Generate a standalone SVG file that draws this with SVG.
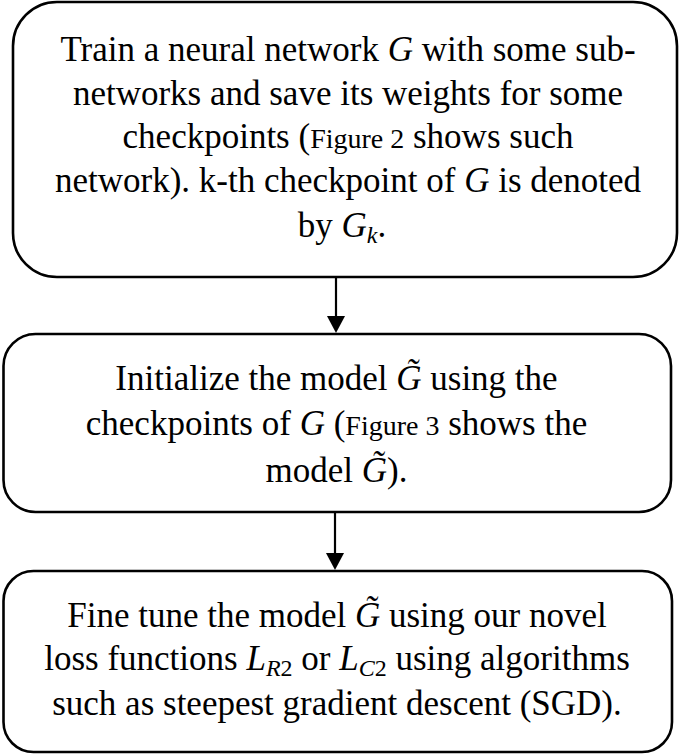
<svg xmlns="http://www.w3.org/2000/svg" width="685" height="754" viewBox="0 0 685 754">
<style>
.nodebox{fill:#fff;stroke:#000;stroke-width:2.6}
.nodelabel{font-family:'Liberation Serif',serif;font-size:35px;fill:#000;text-anchor:middle}
.mathvar{font-style:italic}
.figref{font-size:28px}
.subscr{font-size:24px}
.connline{stroke:#000;stroke-width:2.2;fill:none}
</style>
<rect width="685" height="754" fill="#fff"/>
<g id="node1">
<rect class="nodebox" x="13" y="2" width="664" height="275" rx="44"/>
<text class="nodelabel" style="font-family:'Liberation Serif'" x="348" y="61">Train a neural network <tspan class="mathvar">G</tspan> with some sub-</text>
<text class="nodelabel" style="font-family:'Liberation Serif'" x="348" y="105">networks and save its weights for some</text>
<text class="nodelabel" style="font-family:'Liberation Serif'" x="348" y="148">checkpoints (<tspan class="figref">Figure 2</tspan> shows such</text>
<text class="nodelabel" style="font-family:'Liberation Serif'" x="348" y="192">network). k-th checkpoint of <tspan class="mathvar">G</tspan> is denoted</text>
<text class="nodelabel" style="font-family:'Liberation Serif'" x="342" y="237">by <tspan class="mathvar">G</tspan><tspan class="mathvar subscr" dy="6">k</tspan><tspan dy="-6">.</tspan></text>
</g>
<g id="node2">
<rect class="nodebox" x="3.5" y="334" width="667.5" height="178" rx="32"/>
<text class="nodelabel" style="font-family:'Liberation Serif'" x="336.5" y="390">Initialize the model <tspan class="mathvar">G̃</tspan> using the</text>
<text class="nodelabel" style="font-family:'Liberation Serif'" x="336.5" y="435">checkpoints of <tspan class="mathvar">G</tspan> (<tspan class="figref">Figure 3</tspan> shows the</text>
<text class="nodelabel" style="font-family:'Liberation Serif'" x="336.5" y="482">model <tspan class="mathvar">G̃</tspan>).</text>
</g>
<g id="node3">
<rect class="nodebox" x="3.5" y="571" width="668.5" height="181" rx="30"/>
<text class="nodelabel" style="font-family:'Liberation Serif'" x="337" y="627">Fine tune the model <tspan class="mathvar">G̃</tspan> using our novel</text>
<text class="nodelabel" style="font-family:'Liberation Serif'" x="337" y="670">loss functions <tspan class="mathvar">L</tspan><tspan class="subscr" dy="6"><tspan class="mathvar">R</tspan>2</tspan><tspan dy="-6"> or </tspan><tspan class="mathvar">L</tspan><tspan class="subscr" dy="6"><tspan class="mathvar">C</tspan>2</tspan><tspan dy="-6"> using algorithms</tspan></text>
<text class="nodelabel" style="font-family:'Liberation Serif'" x="337" y="715">such as steepest gradient descent (SGD).</text>
</g>
<g id="connectors">
<line class="connline" x1="336" y1="277" x2="336" y2="317"/>
<polygon points="327,316 345,316 336,333" fill="#000"/>
<line class="connline" x1="335" y1="512" x2="335" y2="554"/>
<polygon points="326,553 344,553 335,570" fill="#000"/>
</g>
</svg>
